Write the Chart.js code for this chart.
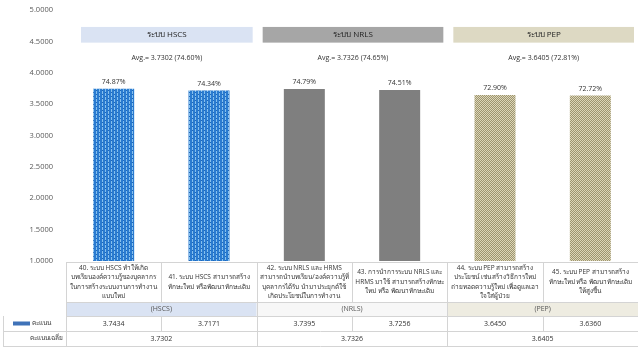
<!DOCTYPE html>
<html>
<head>
<meta charset="utf-8">
<script src="https://cdn.jsdelivr.net/npm/chart.js@4.4.0/dist/chart.umd.min.js"></script>
<style>
  html, body { margin: 0; padding: 0; background: #fff; }
  #wrap { width: 638px; height: 349px; }
</style>
</head>
<body>
<div id="wrap"><canvas id="c" width="638" height="349"></canvas></div>
<script>
// data
const categories = [
  ['40. ระบบ HSCS ทำให้เกิด', 'บทเรียนองค์ความรู้ของบุคลากร', 'ในการสร้างระบบงานการทำงาน', 'แบบใหม่'],
  ['41. ระบบ HSCS สามารถสร้าง', 'ทักษะใหม่ หรือพัฒนาทักษะเดิม'],
  ['42. ระบบ NRLS และ HRMS', 'สามารถนำบทเรียน/องค์ความรู้ที่', 'บุคลากรได้รับ นำมาประยุกต์ใช้', 'เกิดประโยชน์ในการทำงาน'],
  ['43. การนำการระบบ NRLS และ', 'HRMS มาใช้ สามารถสร้างทักษะ', 'ใหม่ หรือ พัฒนาทักษะเดิม'],
  ['44. ระบบ PEP สามารถสร้าง', 'ประโยชน์ เช่น สร้างวิธีการใหม่', 'ถ่ายทอดความรู้ใหม่ เพื่อดูแลเอา', 'ใจใส่ผู้ป่วย'],
  ['45. ระบบ PEP สามารถสร้าง', 'ทักษะใหม่ หรือ พัฒนาทักษะเดิม', 'ให้สูงขึ้น']
];
const scores = [3.7434, 3.7171, 3.7395, 3.7256, 3.6450, 3.6360];
const percents = ['74.87%', '74.34%', '74.79%', '74.51%', '72.90%', '72.72%'];
const groups = ['HSCS', 'NRLS', 'PEP'];
const groupTitles = ['ระบบ HSCS', 'ระบบ NRLS', 'ระบบ PEP'];
const groupAvg = ['3.7302', '3.7326', '3.6405'];
const groupAvgText = ['Avg.= 3.7302 (74.60%)', 'Avg.= 3.7326 (74.65%)', 'Avg.= 3.6405 (72.81%)'];
const yTicks = [1, 1.5, 2, 2.5, 3, 3.5, 4, 4.5, 5];

const FONT = '"Open Sans", "Noto Sans", "DejaVu Sans", sans-serif';

// blue with thin light vertical stripes
function stripePattern() {
  const p = document.createElement('canvas');
  p.width = 6; p.height = 4;
  const g = p.getContext('2d');
  g.fillStyle = '#2a7bd0';
  g.fillRect(0, 0, 6, 4);
  g.fillStyle = '#86c0ee';
  g.fillRect(0, 0, 1, 4);
  g.fillRect(3, 0, 1, 4);
  g.fillStyle = '#1f66b8';
  g.fillRect(0, 2, 1, 1);
  g.fillRect(3, 0, 1, 1);
  return g.createPattern(p, 'repeat');
}

// beige diagonal weave
function weavePattern() {
  const p = document.createElement('canvas');
  p.width = 4; p.height = 4;
  const g = p.getContext('2d');
  g.fillStyle = '#ddd6b8';
  g.fillRect(0, 0, 4, 4);
  g.fillStyle = '#9d9570';
  for (let i = 0; i < 4; i++) {
    g.fillRect(3 - i, i, 1, 1);
    g.fillRect((5 - i) % 4, i, 1, 1);
  }
  return g.createPattern(p, 'repeat');
}

const stripes = stripePattern();
const weave = weavePattern();
const barColors = [stripes, stripes, '#7f7f7f', '#7f7f7f', weave, weave];

const headerFill = ['#dae3f3', '#a6a6a6', '#ddd9c3'];
const groupRowFill = ['#dae3f3', '#f7f7f7', '#eeece1'];

const overlay = {
  id: 'overlay',
  afterDraw(chart) {
    const { ctx, chartArea, scales } = chart;
    const y = scales.y;
    const band = (chartArea.right - chartArea.left) / categories.length;
    const left = i => chartArea.left + i * band;

    ctx.save();
    ctx.textAlign = 'center';
    ctx.textBaseline = 'middle';

    // group header boxes and averages
    groups.forEach((g, k) => {
      const l = left(2 * k) + (k === 0 ? 15 : 6);
      const r = Math.min(left(2 * k + 2) - 4, chartArea.right);
      const top = y.getPixelForValue(4.73);
      const bot = y.getPixelForValue(4.48);
      ctx.fillStyle = headerFill[k];
      ctx.fillRect(l, top, r - l, bot - top);
      ctx.fillStyle = '#222';
      ctx.font = '8px ' + FONT;
      ctx.fillText(groupTitles[k], (l + r) / 2, (top + bot) / 2);
      ctx.fillStyle = '#333';
      ctx.font = '7px ' + FONT;
      ctx.fillText(groupAvgText[k], (l + r) / 2, y.getPixelForValue(4.24));
    });

    // percent labels above bars
    ctx.font = '7px ' + FONT;
    ctx.fillStyle = '#333';
    chart.getDatasetMeta(0).data.forEach((bar, i) => {
      ctx.fillText(percents[i], bar.x, bar.y - 7);
    });

    // data table under the plot
    const t0 = chartArea.bottom + 1;
    const r1 = t0 + 40, r2 = r1 + 14, r3 = r2 + 15, r4 = r3 + 15;
    const right = chartArea.right;

    groups.forEach((g, k) => {
      ctx.fillStyle = groupRowFill[k];
      ctx.fillRect(left(2 * k), r1, band * 2, r2 - r1);
    });

    ctx.strokeStyle = '#d4d4d4';
    ctx.lineWidth = 1;
    ctx.beginPath();
    [t0, r1, r2].forEach(v => { ctx.moveTo(chartArea.left, v + 0.5); ctx.lineTo(right, v + 0.5); });
    [r3, r4].forEach(v => { ctx.moveTo(3, v + 0.5); ctx.lineTo(right, v + 0.5); });
    for (let i = 0; i <= categories.length; i++) {
      const px = Math.round(left(i)) + 0.5;
      ctx.moveTo(px, t0); ctx.lineTo(px, r1);
      ctx.moveTo(px, r2); ctx.lineTo(px, r3);
      if (i % 2 === 0) { ctx.moveTo(px, r1); ctx.lineTo(px, r2); ctx.moveTo(px, r3); ctx.lineTo(px, r4); }
    }
    ctx.moveTo(3.5, r2); ctx.lineTo(3.5, r4);
    ctx.stroke();

    ctx.fillStyle = '#333';
    ctx.font = '6.5px ' + FONT;
    categories.forEach((lines, i) => {
      const cx = left(i) + band / 2;
      const lh = 9.5;
      const start = (t0 + r1) / 2 - (lines.length - 1) * lh / 2;
      lines.forEach((s, j) => ctx.fillText(s, cx, start + j * lh));
    });

    ctx.font = '7px ' + FONT;
    groups.forEach((g, k) => {
      const cx = left(2 * k) + band;
      ctx.fillStyle = '#555';
      ctx.fillText('(' + g + ')', cx, (r1 + r2) / 2);
      ctx.fillStyle = '#333';
      ctx.fillText(groupAvg[k], cx, (r3 + r4) / 2);
    });
    scores.forEach((v, i) => {
      ctx.fillText(v.toFixed(4), left(i) + band / 2, (r2 + r3) / 2);
    });

    // legend cells
    ctx.fillStyle = '#3f72b8';
    ctx.fillRect(13, (r2 + r3) / 2 - 2, 17, 4);
    ctx.fillStyle = '#333';
    ctx.textAlign = 'left';
    ctx.font = '6.5px ' + FONT;
    ctx.fillText('คะแนน', 32, (r2 + r3) / 2);
    ctx.textAlign = 'right';
    ctx.fillText('คะแนนเฉลี่ย', 63, (r3 + r4) / 2);
    ctx.restore();
  }
};

new Chart(document.getElementById('c'), {
  type: 'bar',
  data: {
    labels: categories,
    datasets: [{
      label: 'คะแนน',
      data: scores,
      backgroundColor: barColors,
      borderWidth: 0,
      barPercentage: 0.43,
      categoryPercentage: 1
    }]
  },
  options: {
    responsive: false,
    animation: false,
    layout: { padding: { top: 10, bottom: 88, right: 0, left: 0 } },
    plugins: { legend: { display: false }, tooltip: { enabled: false } },
    scales: {
      x: { display: false },
      y: {
        min: 1,
        max: 5,
        afterBuildTicks: axis => { axis.ticks = yTicks.map(v => ({ value: v })); },
        afterFit: axis => { axis.width = 66; },
        grid: { display: false },
        border: { display: false },
        ticks: {
          padding: 5,
          color: '#595959',
          font: { size: 7.5, family: FONT },
          callback: v => Number(v).toFixed(4)
        }
      }
    }
  },
  plugins: [overlay]
});
</script>
</body>
</html>
